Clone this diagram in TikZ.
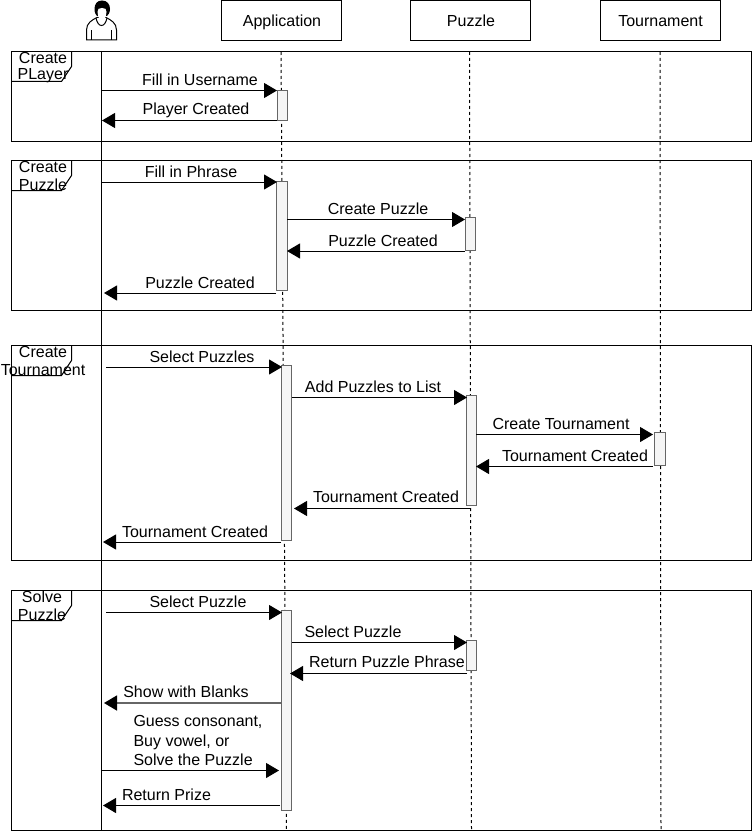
\documentclass[tikz,border=0pt]{standalone}
\usepackage{fontspec}
\setmainfont{Liberation Sans}
\usetikzlibrary{arrows.meta}

\definecolor{actgray}{HTML}{F5F5F5}
\definecolor{actline}{HTML}{666666}

\tikzset{
  every picture/.style={line width=1pt},
  obj/.style={draw, minimum width=120pt, minimum height=40pt, inner sep=0pt, outer sep=0pt, text height=12pt, text depth=0.4pt, font=\fontsize{16}{19}\selectfont},
  frm/.style={draw, anchor=north west, inner sep=0pt, outer sep=0pt},
  act/.style={draw=actline, fill=actgray, anchor=north west, inner sep=0pt, outer sep=0pt},
  lbl/.style={inner sep=0pt, yshift=-1pt, font=\fontsize{16}{19}\selectfont},
  msg/.style={-{Triangle[length=13pt, width=15pt]}},
  life/.style={dash pattern=on 3pt off 3pt}
}

\begin{document}
\begin{tikzpicture}[x=1pt, y=-1pt]
  \useasboundingbox (0,0) rectangle (752,832);

  % Frames
  \node[frm, minimum width=739.5pt, minimum height=89.5pt] (fplayer) at (11.5,51.5) {};
  \node[frm, minimum width=739.5pt, minimum height=149.5pt] (fpuzzle) at (11.5,160.5) {};
  \node[frm, minimum width=739.5pt, minimum height=214.5pt] (ftourn) at (11.5,345.5) {};
  \node[frm, minimum width=739.5pt, minimum height=239.5pt] (fsolve) at (11.5,590.5) {};

  % Frame tabs
  \foreach \t in {51.5,160.5,345.5,590.5}
    \draw (71.5,\t) -- (71.5,\t+15) -- (61.5,\t+30) -- (11.5,\t+30);

  \node[lbl] (tplayera) at (43,56.5) {Create};
  \node[lbl] (tplayerb) at (43,75) {PLayer};
  \node[lbl] (tpuzzlea) at (43,165.5) {Create};
  \node[lbl] (tpuzzleb) at (43,184) {Puzzle};
  \node[lbl] (ttourna) at (43,350.5) {Create};
  \node[lbl] (ttournb) at (43,369) {Tournament};
  \node[lbl] (tsolvea) at (42,596) {Solve};
  \node[lbl] (tsolveb) at (42,614) {Puzzle};

  % Objects
  \node[obj] (app) at (281,20.5) {\hspace{2pt}Application};
  \node[obj] (puz) at (470,20.5) {\hspace{2pt}Puzzle};
  \node[obj] (tou) at (660.5,20.5) {Tournament};

  % Actor
  \coordinate (user) at (101.5,51);
  \coordinate (userend) at (101.5,830);
  \fill[white, draw=black] (86.5,40) -- (86.5,30) .. controls (86.5,23) and (92,20) .. (97,17.5)
    -- (106,17.5) .. controls (111,20) and (116.5,23) .. (116.5,30) -- (116.5,40) -- cycle;
  \draw (91.7,40) -- (91.7,30) (111.7,40) -- (111.7,30);
  \draw (96,18) .. controls (98,28) and (105,28) .. (107,18);
  \fill (102,0.5) .. controls (107,0.5) and (110,4) .. (110,9) .. controls (110,13) and (108,15) .. (107,16)
    -- (97,16) .. controls (96,15) and (94.5,13) .. (94.5,9) .. controls (94.5,4) and (97,0.5) .. (102,0.5) -- cycle;
  \fill[white] (102,8) .. controls (105,8) and (107,9) .. (106.5,12) .. controls (106,18) and (103.5,22) .. (102,22)
    .. controls (100.5,22) and (98,18) .. (97.5,12) .. controls (97,9) and (99,8) .. (102,8) -- cycle;

  % Lifelines
  \coordinate (append) at (286.5,830);
  \coordinate (puzend) at (471.5,830);
  \coordinate (touend) at (661,830);
  \draw (user) -- (userend);
  \draw[life] (281,52) -- (append);
  \draw[life] (469.5,52) -- (puzend);
  \draw[life] (660,52) -- (touend);

  % Activations
  \node[act, minimum width=10pt, minimum height=29.5pt] (acta) at (277,91) {};
  \node[act, minimum width=10.5pt, minimum height=109.5pt] (actb) at (276.5,181) {};
  \node[act, minimum width=10pt, minimum height=174.5pt] (actc) at (281.5,365.5) {};
  \node[act, minimum width=10pt, minimum height=199.5pt] (actd) at (281.5,610.5) {};
  \node[act, minimum width=9.5pt, minimum height=32.5pt] (acte) at (465.5,217.5) {};
  \node[act, minimum width=10pt, minimum height=109.5pt] (actf) at (466,395.5) {};
  \node[act, minimum width=10pt, minimum height=30pt] (actg) at (466,640.5) {};
  \node[act, minimum width=10.5pt, minimum height=32.5pt] (acth) at (654.5,432.5) {};

  % Message ends
  \coordinate (ma) at (101.5,90.5);   \coordinate (mb) at (277,90.5);
  \coordinate (mc) at (277,120.5);    \coordinate (md) at (102,120.5);
  \coordinate (me) at (101.5,182);    \coordinate (mf) at (277,182);
  \coordinate (mg) at (287,219.5);    \coordinate (mh) at (465,219.5);
  \coordinate (mi) at (465,251);      \coordinate (mj) at (287,251);
  \coordinate (mk) at (276,293);      \coordinate (ml) at (104,293);
  \coordinate (mm) at (106,367);      \coordinate (mn) at (282,367);
  \coordinate (mo) at (292,397.5);    \coordinate (mp) at (467,397.5);
  \coordinate (mq) at (476,434.5);    \coordinate (mr) at (653,434.5);
  \coordinate (ms) at (653,466.5);    \coordinate (mt) at (476,466.5);
  \coordinate (mu) at (471,508.5);    \coordinate (mv) at (294,508.5);
  \coordinate (mw) at (281,542);      \coordinate (mx) at (103,542);
  \coordinate (na) at (106,612.5);    \coordinate (nb) at (282,612.5);
  \coordinate (nc) at (292,642.5);    \coordinate (nd) at (467,642.5);
  \coordinate (ne) at (467,673.5);    \coordinate (nf) at (290,673.5);
  \coordinate (ng) at (281,703);      \coordinate (nh) at (104,703);
  \coordinate (ni) at (101.5,770.5);  \coordinate (nj) at (279,770.5);
  \coordinate (nk) at (280,805.5);    \coordinate (nl) at (103,805.5);

  % Messages
  \draw[msg] (ma) -- (mb);
  \draw[msg] (mc) -- (md);
  \draw[msg] (me) -- (mf);
  \draw[msg] (mg) -- (mh);
  \draw[msg] (mi) -- (mj);
  \draw[msg] (mk) -- (ml);
  \draw[msg] (mm) -- (mn);
  \draw[msg] (mo) -- (mp);
  \draw[msg] (mq) -- (mr);
  \draw[msg] (ms) -- (mt);
  \draw[msg] (mu) -- (mv);
  \draw[msg] (mw) -- (mx);
  \draw[msg] (na) -- (nb);
  \draw[msg] (nc) -- (nd);
  \draw[msg] (ne) -- (nf);
  \draw[msg, draw=actline, line width=1.5pt, -{Triangle[length=13pt, width=15pt, color=black]}] (ng) -- (nh);
  \draw[msg] (ni) -- (nj);
  \draw[msg] (nk) -- (nl);

  % Message labels
  \node[lbl] (la) at (200,79) {Fill in Username};
  \node[lbl] (lb) at (196,109) {Player Created};
  \node[lbl] (lc) at (191,171) {Fill in Phrase};
  \node[lbl] (ld) at (378,208) {Create Puzzle};
  \node[lbl] (le) at (383,240) {Puzzle Created};
  \node[lbl] (lf) at (200,282) {Puzzle Created};
  \node[lbl] (lg) at (202,356) {Select Puzzles};
  \node[lbl] (lh) at (373,386) {Add Puzzles to List};
  \node[lbl] (li) at (561,423) {Create Tournament};
  \node[lbl] (lj) at (575,455) {Tournament Created};
  \node[lbl] (lk) at (386,496) {Tournament Created};
  \node[lbl] (ll) at (195,531) {Tournament Created};
  \node[lbl] (lm) at (198,601) {Select Puzzle};
  \node[lbl] (ln) at (353,631) {Select Puzzle};
  \node[lbl] (lo) at (387,661) {Return Puzzle Phrase};
  \node[lbl] (lp) at (186,691) {Show with Blanks};
  \node[lbl, anchor=north west, align=left] (lq) at (133,714) {Guess consonant,\\[0.5pt]Buy vowel, or\\[0.5pt]Solve the Puzzle};
  \node[lbl] (lr) at (166.5,794) {Return Prize};
\end{tikzpicture}
\end{document}
